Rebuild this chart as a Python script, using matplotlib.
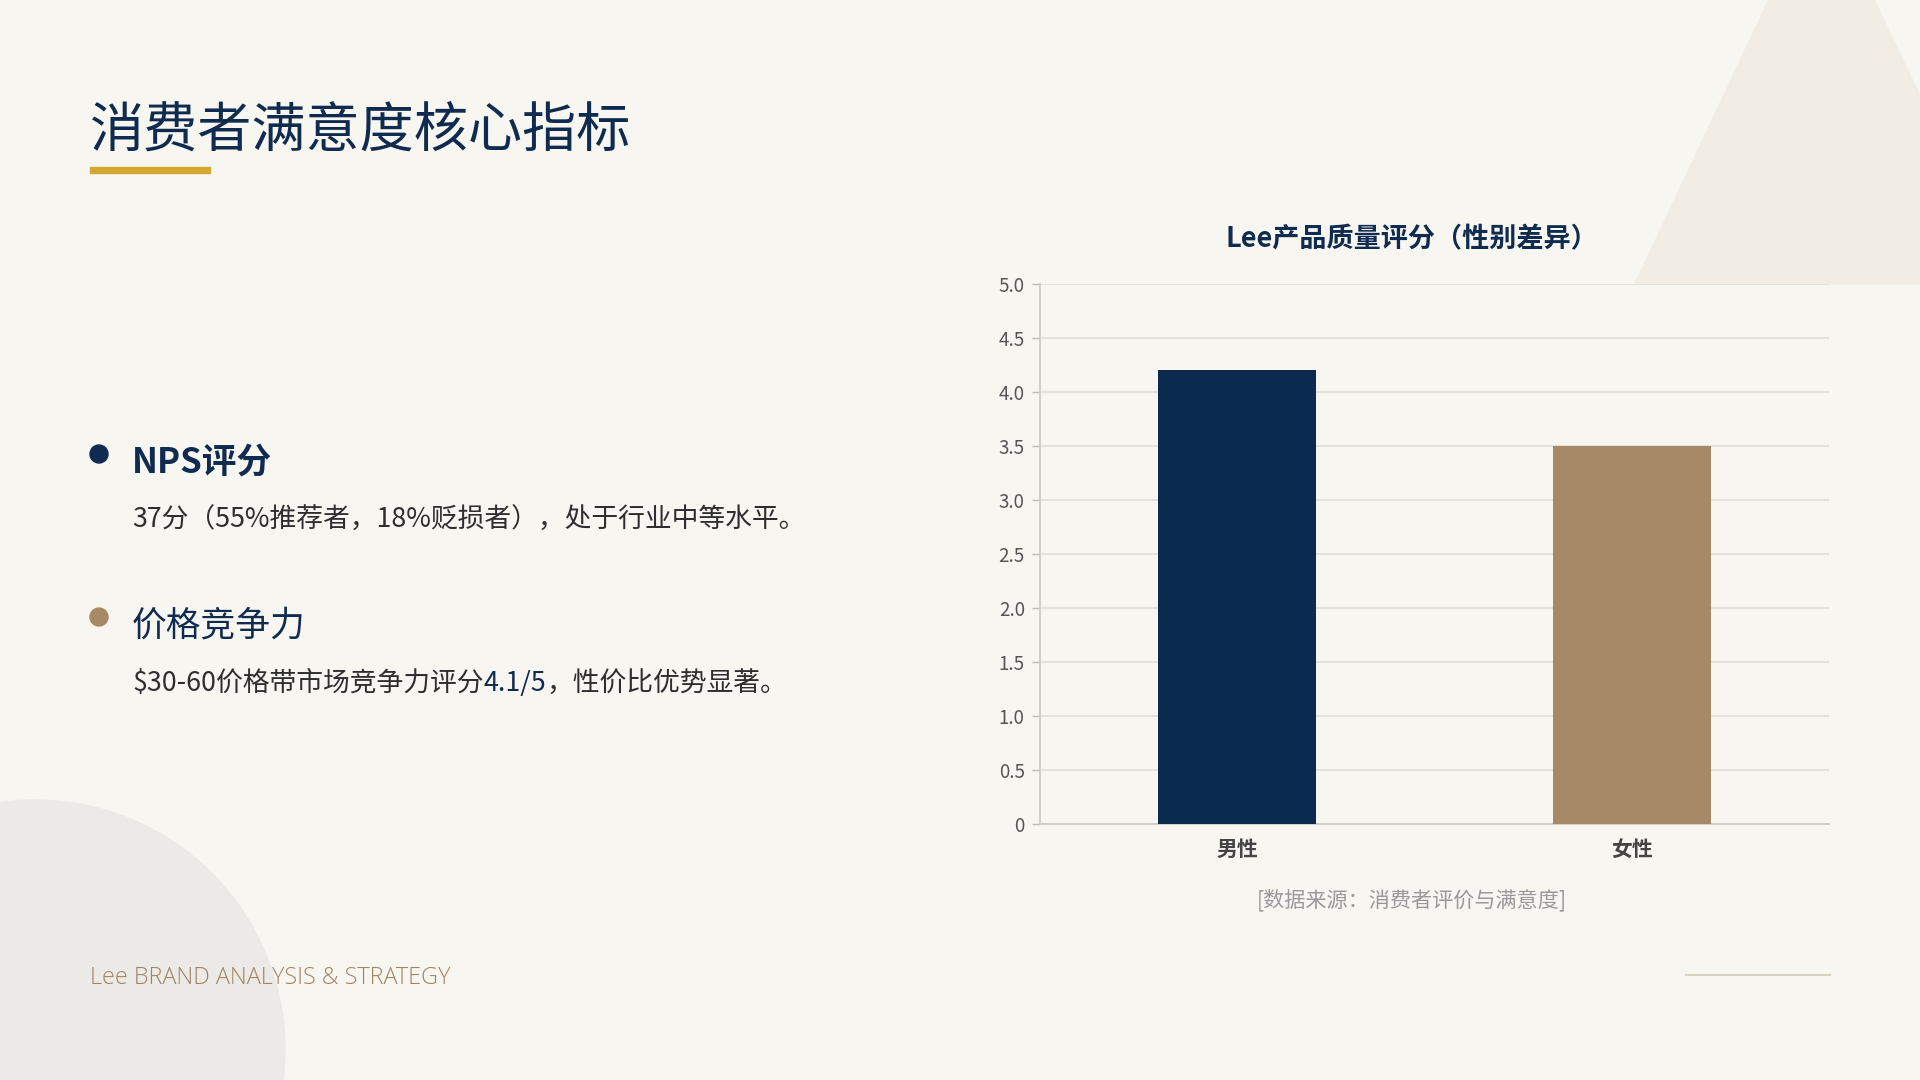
import matplotlib
matplotlib.use("Agg")
import matplotlib.pyplot as plt
from matplotlib.patches import Circle, Polygon, Rectangle
from matplotlib.ticker import FuncFormatter

plt.rcParams['font.family'] = ['Noto Sans CJK SC', 'DejaVu Sans']

# 数据
genders = ["男性", "女性"]
scores = [4.2, 3.5]
bar_colors = ["#0b2a4f", "#a78965"]
y_ticks = [0, 0.5, 1.0, 1.5, 2.0, 2.5, 3.0, 3.5, 4.0, 4.5, 5.0]

page_title = "消费者满意度核心指标"
chart_title = "Lee产品质量评分（性别差异）"
source_note = "[数据来源：消费者评价与满意度]"
footer = "Lee BRAND ANALYSIS & STRATEGY"

NAVY = "#0f2b50"
TAN = "#a78965"
BG = "#f8f6f1"

fig = plt.figure(figsize=(19.2, 10.8), dpi=100, facecolor=BG)

# 背景层 (像素坐标)
bg = fig.add_axes([0, 0, 1, 1])
bg.set_xlim(0, 1920)
bg.set_ylim(1080, 0)
bg.axis("off")
bg.set_facecolor(BG)

# 装饰图形
bg.add_patch(Circle((35, 1050), 250, color="#ebeae6", zorder=0))
bg.add_patch(Polygon([(1635, 284), (1821, -111), (2010, 284)], closed=True,
                     color="#f1ece4", zorder=0))
bg.plot([1686, 1830], [975, 975], color="#d9d2c2", lw=1.5, zorder=1)

# 页面标题
bg.text(90, 131, page_title, fontsize=39, color=NAVY, fontweight="medium",
        va="center", ha="left")
bg.add_patch(Rectangle((90, 167), 120, 6, color="#d4a82e"))

# 要点 1
bg.add_patch(Circle((99, 454), 9, color=NAVY))
bg.text(132, 462, "NPS评分", fontsize=25, color=NAVY, fontweight="bold",
        va="center", ha="left")
bg.text(132, 520, "37分（55%推荐者，18%贬损者），处于行业中等水平。", fontsize=19.3,
        color="#2e2e2e", va="center", ha="left")

# 要点 2
bg.add_patch(Circle((99, 617), 9, color=TAN))
bg.text(132, 626, "价格竞争力", fontsize=25, color=NAVY, fontweight="medium",
        va="center", ha="left")
t1 = bg.text(132, 684, "$30-60价格带市场竞争力评分", fontsize=19.3,
             color="#2e2e2e", va="center", ha="left")
t2 = bg.annotate("4.1/5", xy=(1, 0.5), xycoords=t1, fontsize=19.3, color=NAVY,
                 fontweight="medium", va="center", ha="left")
bg.annotate("，性价比优势显著。", xy=(1, 0.5), xycoords=t2, fontsize=19.3,
            color="#2e2e2e", va="center", ha="left")

# 页脚
bg.text(90, 978, footer, fontsize=16.8, color="#a08462", va="center", ha="left",
        family=["Open Sans", "DejaVu Sans"], fontweight="light")

# 柱状图
ax = fig.add_axes([1040 / 1920, 1 - 824 / 1080, 789 / 1920, 540 / 1080])
ax.set_facecolor("none")
ax.bar(range(len(genders)), scores, width=0.4, color=bar_colors, zorder=3)
ax.set_xlim(-0.5, 1.5)
ax.set_ylim(0, 5)
ax.set_yticks(y_ticks)
ax.yaxis.set_major_formatter(FuncFormatter(lambda v, p: "0" if v == 0 else f"{v:.1f}"))
ax.set_xticks(range(len(genders)))
ax.set_xticklabels(genders, fontsize=15, color="#444444", fontweight="bold")
ax.tick_params(axis="y", labelsize=13.5, colors="#555555", length=6, width=1,
               color="#bbbbbb", pad=5)
ax.tick_params(axis="x", length=0, pad=11)
ax.grid(axis="y", color="#e3e1dc", lw=1.5, zorder=0)
for s in ["top", "right"]:
    ax.spines[s].set_visible(False)
for s in ["left", "bottom"]:
    ax.spines[s].set_color("#c8c8c8")
    ax.spines[s].set_linewidth(1.2)

bg.text(1412, 239, chart_title, fontsize=19.5, color=NAVY, fontweight="bold",
        va="center", ha="center")
bg.text(1412, 900, source_note, fontsize=15.2, color="#999999",
        va="center", ha="center")

fig.savefig("out.png", dpi=100, facecolor=BG)
